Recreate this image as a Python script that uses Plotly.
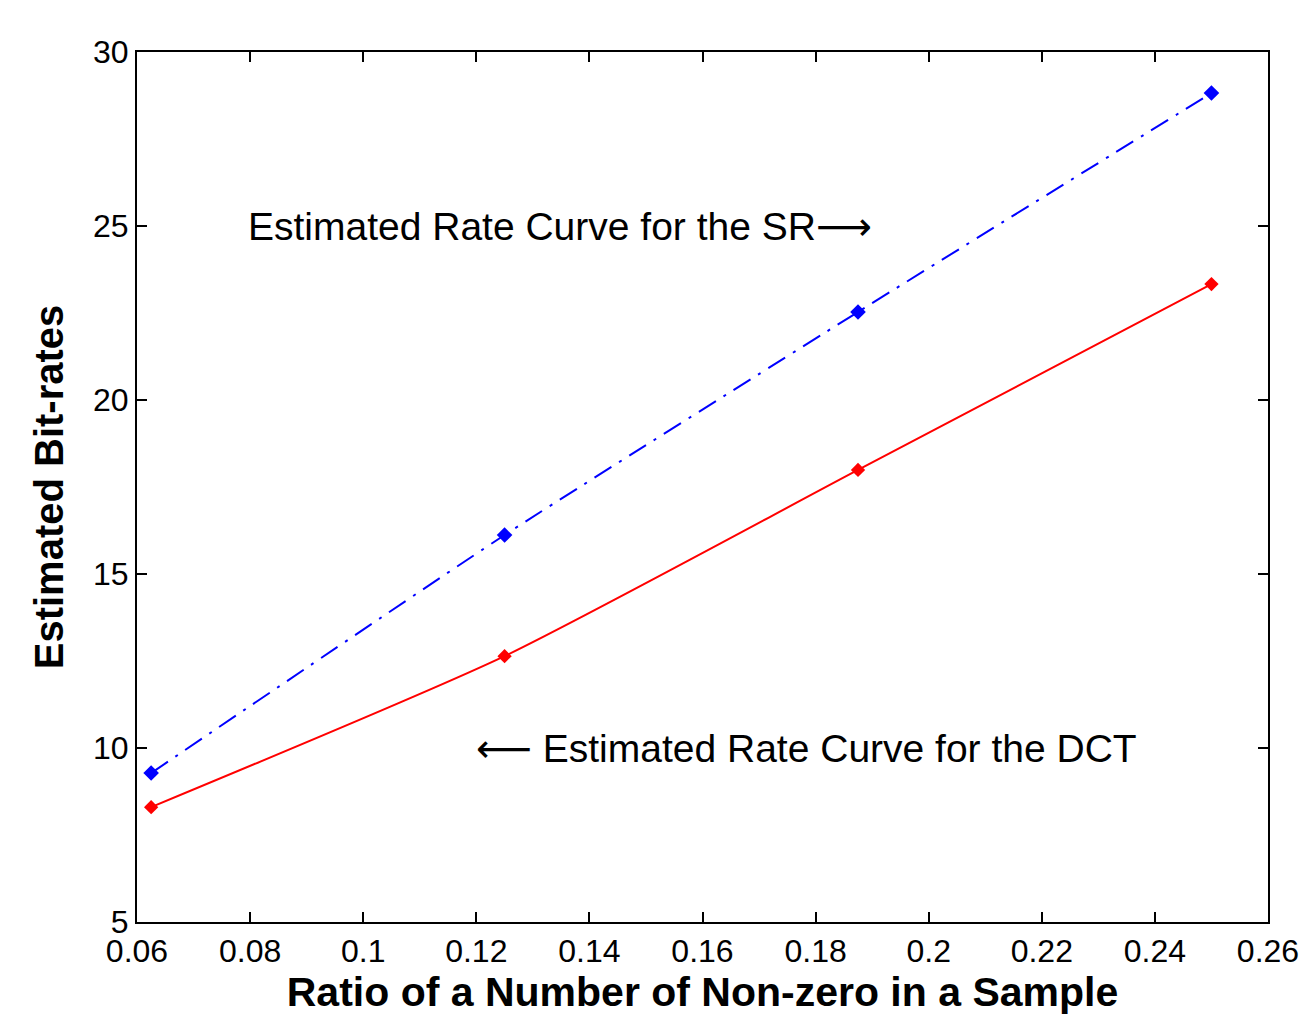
import plotly.graph_objects as go

x_ratio = [0.0625, 0.125, 0.1875, 0.25]
sr_rate = [9.28, 16.12, 22.53, 28.82]
dct_rate = [8.30, 12.64, 17.99, 23.33]

x_ticks = [0.06, 0.08, 0.1, 0.12, 0.14, 0.16, 0.18, 0.2, 0.22, 0.24, 0.26]
x_tick_labels = ["0.06", "0.08", "0.1", "0.12", "0.14", "0.16", "0.18", "0.2", "0.22", "0.24", "0.26"]
y_ticks = [5, 10, 15, 20, 25, 30]

FONT = "Liberation Sans, Arial, sans-serif"

fig = go.Figure()
fig.add_trace(go.Scatter(
    x=x_ratio, y=sr_rate, mode="lines+markers", line_shape="spline",
    line=dict(color="#0000ff", width=2, dash="20px,9px,3px,9px", smoothing=0.5),
    marker=dict(symbol="diamond", size=12, color="#0000ff"),
    name="SR", showlegend=False,
))
fig.add_trace(go.Scatter(
    x=x_ratio, y=dct_rate, mode="lines+markers", line_shape="spline",
    line=dict(color="#ff0000", width=2, smoothing=0.6),
    marker=dict(symbol="diamond", size=11, color="#ff0000"),
    name="DCT", showlegend=False,
))

axis_common = dict(
    showgrid=False, zeroline=False, showline=True, mirror="ticks",
    linecolor="#000000", linewidth=2, ticks="inside", ticklen=10,
    tickwidth=2, tickcolor="#000000", automargin=False,
    tickfont=dict(family=FONT, size=32, color="#000000"),
)

fig.update_xaxes(
    range=[0.06, 0.26], tickvals=x_ticks, ticktext=x_tick_labels,
    title=dict(text="<b>Ratio of a Number of Non-zero in a Sample</b>",
               font=dict(family=FONT, size=41, color="#000000"), standoff=4),
    **axis_common,
)
fig.update_yaxes(
    range=[5, 30], tickvals=y_ticks,
    title=dict(text="<b>Estimated Bit-rates</b>",
               font=dict(family=FONT, size=40, color="#000000"), standoff=17),
    **axis_common,
)

fig.add_annotation(x=0.0793, y=25, xref="x", yref="y", xanchor="left", yanchor="middle",
                   text="Estimated Rate Curve for the SR<span style='font-family:DejaVu Sans'>⟶</span>",
                   showarrow=False,
                   font=dict(family=FONT, size=39, color="#000000"))
fig.add_annotation(x=0.1196, y=10, xref="x", yref="y", xanchor="left", yanchor="middle",
                   text="<span style='font-family:DejaVu Sans'>⟵</span> Estimated Rate Curve for the DCT",
                   showarrow=False,
                   font=dict(family=FONT, size=39, color="#000000"))

fig.update_layout(
    width=1302, height=1018,
    margin=dict(l=137, r=34, t=52, b=96),
    paper_bgcolor="#ffffff", plot_bgcolor="#ffffff",
)

fig.write_html("out.html", config={"displayModeBar": False},
               post_script="document.body.style.margin='0px';")
